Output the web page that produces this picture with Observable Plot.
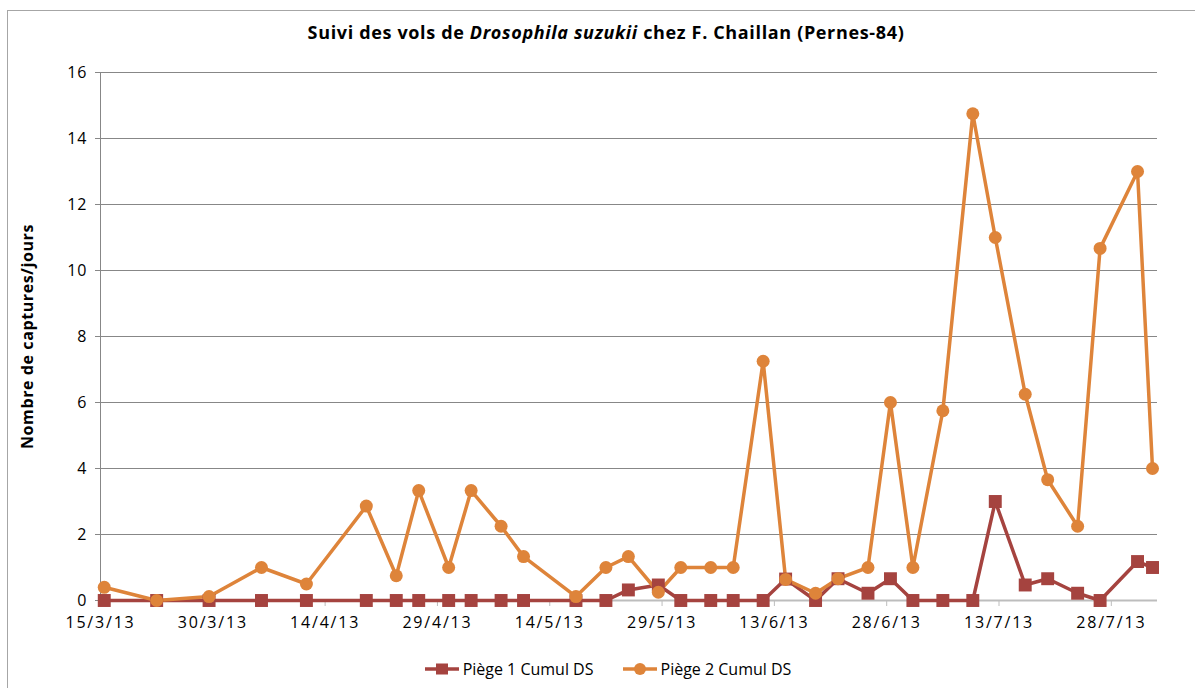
<!DOCTYPE html>
<html><head><meta charset="utf-8">
<script src="https://cdn.jsdelivr.net/npm/d3@7"></script>
<script src="https://cdn.jsdelivr.net/npm/@observablehq/plot@0.6"></script>
<style>
body{margin:0;background:#fff;font-family:"Open Sans",sans-serif;color:#000;}
#wrap{position:relative;width:1195px;height:688px;overflow:hidden;background:#fff;}
#frame{position:absolute;left:7px;top:10px;width:1210px;height:700px;border:1px solid #a6a6a6;box-sizing:border-box;pointer-events:none;}
#title{position:absolute;left:0;top:20px;width:1212px;text-align:center;font-weight:bold;font-size:18px;letter-spacing:0.65px;}
#chart{position:absolute;left:0;top:0;}
#chart svg g[aria-label="x-axis tick label"] text{letter-spacing:1.8px;}
#chart svg g[aria-label="y-axis tick label"] text{letter-spacing:1px;}
#chart svg g[aria-label="text"] text{letter-spacing:0.6px;}
#legend{position:absolute;left:0;top:658px;width:1195px;display:flex;justify-content:center;gap:29px;font-size:16px;align-items:center;padding-left:21px;box-sizing:border-box;}
#legend span.item{display:flex;align-items:center;gap:4px;}
</style></head>
<body>
<div id="wrap">
  <div id="frame"></div>
  <div id="chart"></div>
  <div id="title">Suivi des vols de <i>Drosophila suzukii</i> chez F. Chaillan (Pernes-84)</div>
  <div id="legend"></div>
</div>
<script>
// ---- data ----
const dates = ["2013-03-15","2013-03-22","2013-03-29","2013-04-05","2013-04-11","2013-04-19","2013-04-23","2013-04-26","2013-04-30","2013-05-03","2013-05-07","2013-05-10","2013-05-17","2013-05-21","2013-05-24","2013-05-28","2013-05-31","2013-06-04","2013-06-07","2013-06-11","2013-06-14","2013-06-18","2013-06-21","2013-06-25","2013-06-28","2013-07-01","2013-07-05","2013-07-09","2013-07-12","2013-07-16","2013-07-19","2013-07-23","2013-07-26","2013-07-31","2013-08-02"];
const piege1 = [0,0,0,0,0,0,0,0,0,0,0,0,0,0,0.32,0.47,0,0,0,0,0.65,0,0.66,0.22,0.66,0,0,0,3.0,0.47,0.66,0.22,0,1.18,1.0];
const piege2 = [0.4,0,0.12,1.0,0.5,2.86,0.75,3.33,1.0,3.33,2.25,1.33,0.12,1.0,1.33,0.25,1.0,1.0,1.0,7.25,0.64,0.22,0.66,1.0,6.0,1.0,5.75,14.75,11.0,6.25,3.66,2.25,10.67,13.0,4.0];
const seriesNames = ["Piège 1 Cumul DS","Piège 2 Cumul DS"];
const tickDates = ["2013-03-15","2013-03-30","2013-04-14","2013-04-29","2013-05-14","2013-05-29","2013-06-13","2013-06-28","2013-07-13","2013-07-28"];
const tickLabels = ["15/3/13","30/3/13","14/4/13","29/4/13","14/5/13","29/5/13","13/6/13","28/6/13","13/7/13","28/7/13"];
const yTicks = [0,2,4,6,8,10,12,14,16];
const yLabel = "Nombre de captures/jours";
const colors = ["#a5433f","#de843a"];

// ---- build ----
const noon = s => new Date(s + "T12:00:00Z");
const mid = s => new Date(s + "T00:00:00Z");
const rows = [];
dates.forEach((d,i)=>{
  rows.push({date:noon(d), value:piege1[i], serie:seriesNames[0]});
  rows.push({date:noon(d), value:piege2[i], serie:seriesNames[1]});
});
const s1 = rows.filter(r=>r.serie===seriesNames[0]);
const s2 = rows.filter(r=>r.serie===seriesNames[1]);
const ticks = tickDates.map(mid);
const labelOf = new Map(ticks.map((t,i)=>[+t, tickLabels[i]]));

const plot = Plot.plot({
  width: 1195, height: 640,
  marginLeft: 100, marginRight: 38, marginTop: 72, marginBottom: 40,
  style: {fontFamily: "'Open Sans', sans-serif", fontSize: "16px", color:"#000"},
  x: {type:"utc", domain:[mid("2013-03-15"), new Date(Date.UTC(2013,7,3,4))]},
  y: {domain:[0,16]},
  marks: [
    Plot.ruleY(yTicks.filter(v=>v>0), {stroke:"#878787", strokeWidth:1}),
    Plot.ruleX([mid("2013-03-15")], {stroke:"#878787", strokeWidth:1}),
    Plot.ruleY([0], {stroke:"#bdbdbd", strokeWidth:2}),
    Plot.axisY({ticks:yTicks, tickSize:5, tickPadding:8, label:null, stroke:"#878787"}),
    Plot.axisX({ticks:ticks, tickSize:6, tickPadding:10, label:null, stroke:"#bdbdbd", tickFormat:d=>labelOf.get(+d)}),
    Plot.text([yLabel], {frameAnchor:"left", rotate:-90, dx:-73, textAnchor:"middle", fontWeight:"bold", fontSize:16}),
    Plot.line(s1, {x:"date", y:"value", stroke:colors[0], strokeWidth:3.5}),
    Plot.line(s2, {x:"date", y:"value", stroke:colors[1], strokeWidth:3.5}),
    Plot.dot(s1, {x:"date", y:"value", symbol:"square", r:7.3, fill:colors[0], stroke:null}),
    Plot.dot(s2, {x:"date", y:"value", symbol:"circle", r:6.5, fill:colors[1], stroke:null})
  ]
});
document.getElementById("chart").appendChild(plot);

// legend
const leg = document.getElementById("legend");
seriesNames.forEach((name,i)=>{
  const item = document.createElement("span");
  item.className="item";
  const sw = i===0
    ? `<svg width="34" height="14"><line x1="0" y1="7" x2="34" y2="7" stroke="${colors[0]}" stroke-width="3.5"/><rect x="11" y="1.5" width="12" height="11" fill="${colors[0]}"/></svg>`
    : `<svg width="34" height="14"><line x1="0" y1="7" x2="34" y2="7" stroke="${colors[1]}" stroke-width="3.5"/><circle cx="17" cy="7" r="6" fill="${colors[1]}"/></svg>`;
  item.innerHTML = sw + `<span>${name}</span>`;
  leg.appendChild(item);
});
</script>
</body></html>
